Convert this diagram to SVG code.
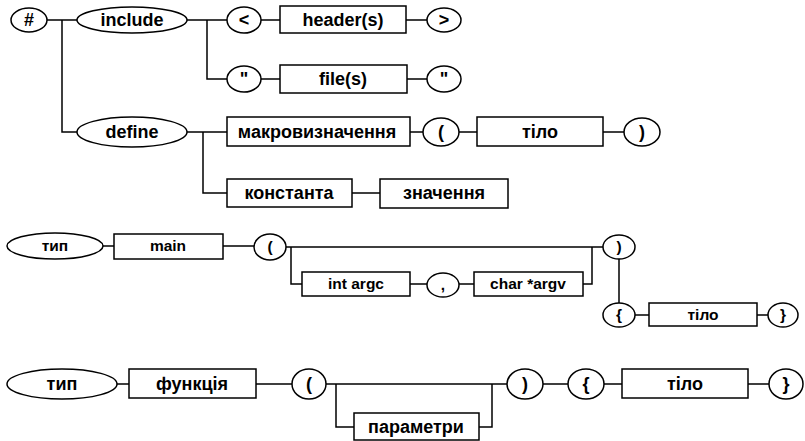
<svg xmlns="http://www.w3.org/2000/svg" width="805" height="441" viewBox="0 0 805 441">
<style>
.n ellipse, .n rect { fill: #fff; stroke: #000; stroke-width: 1.5; }
.n text { font-family: "Liberation Sans", Arial, sans-serif; font-weight: bold; font-size: 18px; text-anchor: middle; fill: #000; }
.s text { font-size: 15.5px; }
#connectors path { fill: none; stroke: #000; stroke-width: 1.5; }
</style>
<rect width="805" height="441" fill="#fff"/>
<g id="connectors">
<path d="M47,20H77 M62,20V132H77 M187,20H227 M207,20V79H227 M261,20H280 M406,20H427 M261,79H280 M407,79H427"/>
<path d="M187,132H227 M203,132V193H227 M410,132H423 M459,132H477 M603,132H624 M352,193H380"/>
<path d="M103,246H114 M223,246H254 M286,247H603 M291,247V284H302 M410,284H427 M459,284H474 M583,284H592V247 M619,259V303 M635,315H649 M757,315H768"/>
<path d="M117,384H129 M256,384H292 M326,384H507 M336,384V427H354 M479,427H492V384 M543,384H568 M604,384H622 M748,384H769"/>
</g>
<g class="n">
<g id="hash"><ellipse cx="29" cy="20" rx="18" ry="12"/><text x="29" y="26">#</text></g>
<g id="include"><ellipse cx="132" cy="20" rx="55" ry="13"/><text x="132" y="26">include</text></g>
<g id="lt"><ellipse cx="244" cy="20" rx="17" ry="13"/><text x="244" y="26">&lt;</text></g>
<g id="headers"><rect x="280" y="6" width="126" height="27"/><text x="343" y="26">header(s)</text></g>
<g id="gt"><ellipse cx="444" cy="20" rx="17" ry="12"/><text x="444" y="26">&gt;</text></g>
<g id="quote1"><ellipse cx="244" cy="79" rx="17" ry="13"/><text x="244" y="85">"</text></g>
<g id="files"><rect x="280" y="65" width="127" height="28"/><text x="343" y="85">file(s)</text></g>
<g id="quote2"><ellipse cx="444" cy="79" rx="17" ry="13"/><text x="444" y="85">"</text></g>
<g id="define"><ellipse cx="132" cy="132" rx="55" ry="15"/><text x="132" y="138">define</text></g>
<g id="macro"><rect x="227" y="117" width="183" height="29"/><text x="317" y="138">макровизначення</text></g>
<g id="lparen1"><ellipse cx="441" cy="132" rx="18" ry="14"/><text x="441" y="138">(</text></g>
<g id="body1"><rect x="477" y="117" width="126" height="29"/><text x="540" y="138">тіло</text></g>
<g id="rparen1"><ellipse cx="642" cy="132" rx="18" ry="14"/><text x="642" y="138">)</text></g>
<g id="constant"><rect x="227" y="179" width="125" height="28"/><text x="289" y="199">константа</text></g>
<g id="value"><rect x="380" y="179" width="128" height="29"/><text x="444" y="199">значення</text></g>
</g>
<g class="n s">
<g id="type2"><ellipse cx="55" cy="246" rx="48" ry="13"/><text x="55" y="251">тип</text></g>
<g id="main"><rect x="114" y="234" width="109" height="25"/><text x="168" y="251">main</text></g>
<g id="lparen2"><ellipse cx="270" cy="247" rx="16" ry="13"/><text x="270" y="252">(</text></g>
<g id="argc"><rect x="302" y="272" width="108" height="24"/><text x="356" y="289">int argc</text></g>
<g id="comma"><ellipse cx="443" cy="285" rx="16" ry="12"/><text x="443" y="290">,</text></g>
<g id="argv"><rect x="474" y="272" width="109" height="24"/><text x="528" y="289">char *argv</text></g>
<g id="rparen2"><ellipse cx="619" cy="247" rx="16" ry="12"/><text x="619" y="252">)</text></g>
<g id="lbrace2"><ellipse cx="619" cy="315" rx="16" ry="12"/><text x="619" y="320">{</text></g>
<g id="body2"><rect x="649" y="303" width="108" height="23"/><text x="703" y="320">тіло</text></g>
<g id="rbrace2"><ellipse cx="783" cy="315" rx="15" ry="12"/><text x="783" y="320">}</text></g>
</g>
<g class="n">
<g id="type3"><ellipse cx="62" cy="384" rx="55" ry="15"/><text x="62" y="390">тип</text></g>
<g id="func"><rect x="129" y="369" width="127" height="29"/><text x="192" y="390">функція</text></g>
<g id="lparen3"><ellipse cx="309" cy="384" rx="17" ry="15"/><text x="309" y="390">(</text></g>
<g id="params"><rect x="354" y="413" width="125" height="27"/><text x="416" y="433">параметри</text></g>
<g id="rparen3"><ellipse cx="525" cy="384" rx="18" ry="15"/><text x="525" y="390">)</text></g>
<g id="lbrace3"><ellipse cx="586" cy="384" rx="18" ry="15"/><text x="586" y="390">{</text></g>
<g id="body3"><rect x="622" y="369" width="126" height="29"/><text x="685" y="390">тіло</text></g>
<g id="rbrace3"><ellipse cx="786" cy="384" rx="17" ry="15"/><text x="786" y="390">}</text></g>
</g>
</svg>
